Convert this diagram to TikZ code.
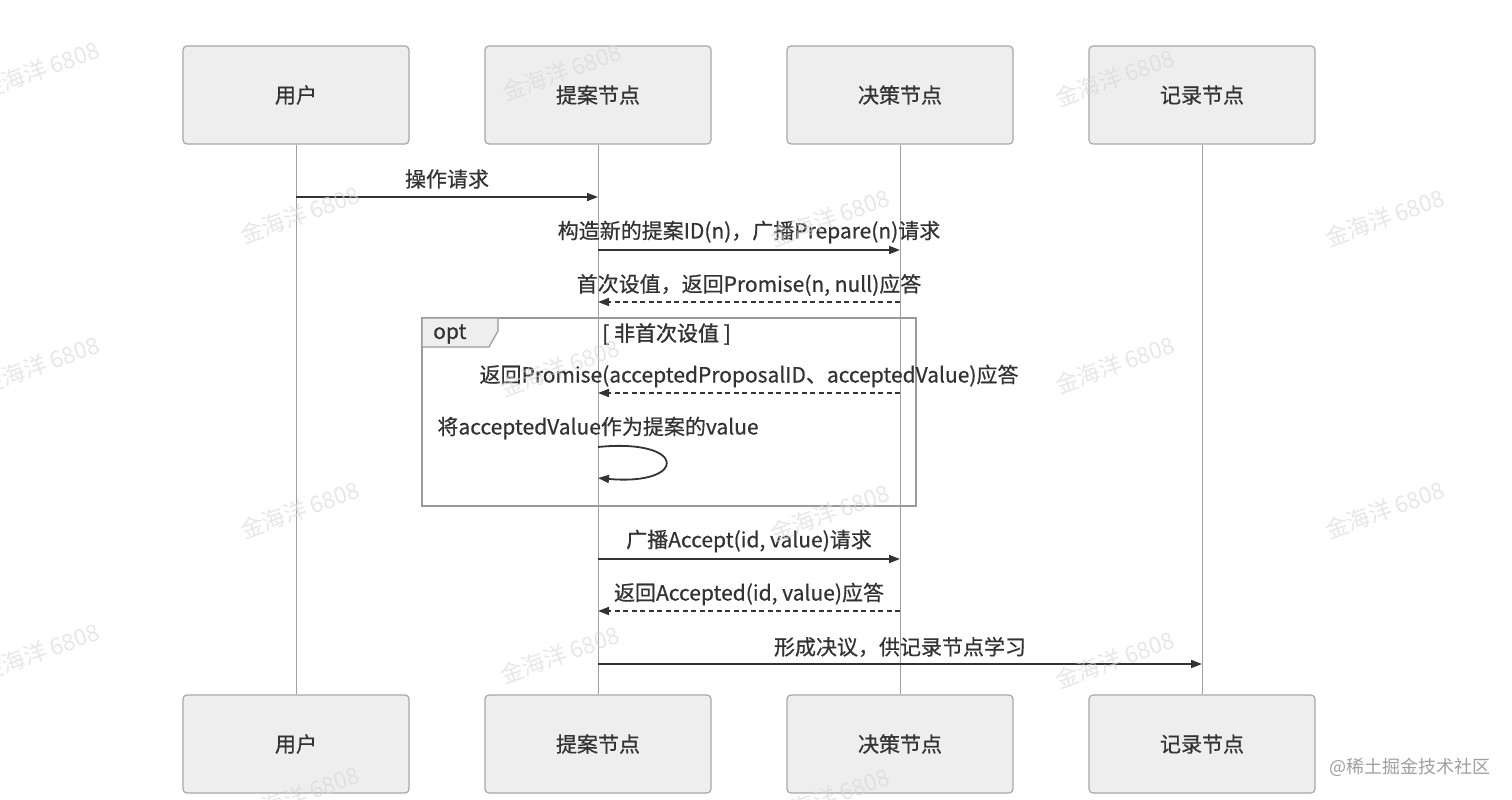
\documentclass[tikz,border=0pt]{standalone}
\usepackage{fontspec}
\setmainfont{Noto Sans CJK SC}
\newfontfamily\lblfont{Noto Sans CJK SC}[FakeBold=0.6]
\newfontfamily\condfont{Noto Sans CJK SC}[FakeBold=1.4]
\usetikzlibrary{arrows.meta}
\definecolor{txt}{HTML}{333333}
\definecolor{boxfill}{HTML}{EEEEEE}
\definecolor{boxline}{HTML}{A8A8A8}
\definecolor{life}{HTML}{A0A0A0}
\definecolor{wm}{HTML}{D8D8D8}
\definecolor{optline}{HTML}{9A9A9A}
\tikzset{
  actor/.style={draw=boxline, line width=1.2pt, fill=boxfill, rounded corners=4pt,
    minimum width=226pt, minimum height=98pt, font=\lblfont\fontsize{21}{24}\selectfont, text=txt},
  lifeline/.style={draw=life, line width=1pt},
  msg/.style={draw=txt, line width=1.8pt, -{Triangle[length=11pt,width=8pt]}},
  reply/.style={msg, dash pattern=on 5pt off 3.5pt},
  lbl/.style={font=\lblfont\fontsize{21}{24}\selectfont, text=txt, inner sep=0pt},
  wmark/.style={font=\fontsize{23}{25}\selectfont, text=wm, rotate=20, inner sep=0pt, opacity=0.6},
}
\begin{document}
\begin{tikzpicture}[x=1pt,y=-1pt]
\useasboundingbox[fill=white] (0,0) rectangle (1512,800);
% actors
\node[actor] (u1) at (296,95) {用户};
\node[actor] (p1) at (598,95) {提案节点};
\node[actor] (d1) at (900,95) {决策节点};
\node[actor] (r1) at (1202,95) {记录节点};
\node[actor] (u2) at (296,744) {用户};
\node[actor] (p2) at (598,744) {提案节点};
\node[actor] (d2) at (900,744) {决策节点};
\node[actor] (r2) at (1202,744) {记录节点};
\draw[lifeline] (u1) -- (u2);
\draw[lifeline] (p1) -- (p2);
\draw[lifeline] (d1) -- (d2);
\draw[lifeline] (r1) -- (r2);
% message points
\coordinate (uA) at (296,197); \coordinate (pA) at (598,197);
\coordinate (pB) at (598,250); \coordinate (dB) at (900,250);
\coordinate (dC) at (900,302); \coordinate (pC) at (598,302);
\coordinate (dD) at (900,393); \coordinate (pD) at (598,393);
\coordinate (pE1) at (598,447); \coordinate (pE2) at (598,478);
\coordinate (pF) at (598,559); \coordinate (dF) at (900,559);
\coordinate (dG) at (900,611); \coordinate (pG) at (598,611);
\coordinate (pH) at (598,664); \coordinate (rH) at (1202,664);
% opt frame
\draw[optline, line width=2.2pt] (422,318) rectangle (916,506);
\draw[optline, line width=1.2pt, fill=boxfill] (422,318) -- (498,318) -- (498,331) -- (489,347) -- (422,347) -- cycle;
\node[lbl, anchor=west] (optl) at (433,334) {opt};
\node[lbl, anchor=west, font=\condfont\fontsize{21}{24}\selectfont] (cond) at (602,334) {[ 非首次设值 ]};
% messages
\draw[msg] (uA) -- (pA);
\node[lbl] (l1) at (447,179) {操作请求};
\draw[msg] (pB) -- (dB);
\node[lbl] (l2) at (749,232) {构造新的提案ID(n)，广播Prepare(n)请求};
\draw[reply] (dC) -- (pC);
\node[lbl] (l3) at (749,285) {首次设值，返回Promise(n, null)应答};
\draw[reply] (dD) -- (pD);
\node[lbl] (l4) at (749,376) {返回Promise(acceptedProposalID、acceptedValue)应答};
\node[lbl] (l5) at (598,428) {将acceptedValue作为提案的value};
\draw[msg] (pE1) .. controls (688,438) and (688,486) .. (pE2);
\draw[msg] (pF) -- (dF);
\node[lbl] (l6) at (749,541) {广播Accept(id, value)请求};
\draw[reply] (dG) -- (pG);
\node[lbl] (l7) at (749,594) {返回Accepted(id, value)应答};
\draw[msg] (pH) -- (rH);
\node[lbl] (l8) at (900,647) {形成决议，供记录节点学习};
\node[font=\fontsize{18}{20}\selectfont, text=gray!75, anchor=east, inner sep=0pt] (brand) at (1491,767) {@稀土掘金技术社区};
% watermarks (on top, faint)
\foreach \wx/\wy in {40/70,562/72,1115/78,300/215,830/218,1385/218,40/365,560/368,1115/365,300/510,830/513,1385/510,40/652,560/655,1115/660,300/795,830/797}{
  \node[wmark] at (\wx,\wy) {金海洋 6808};
}
\end{tikzpicture}
\end{document}
